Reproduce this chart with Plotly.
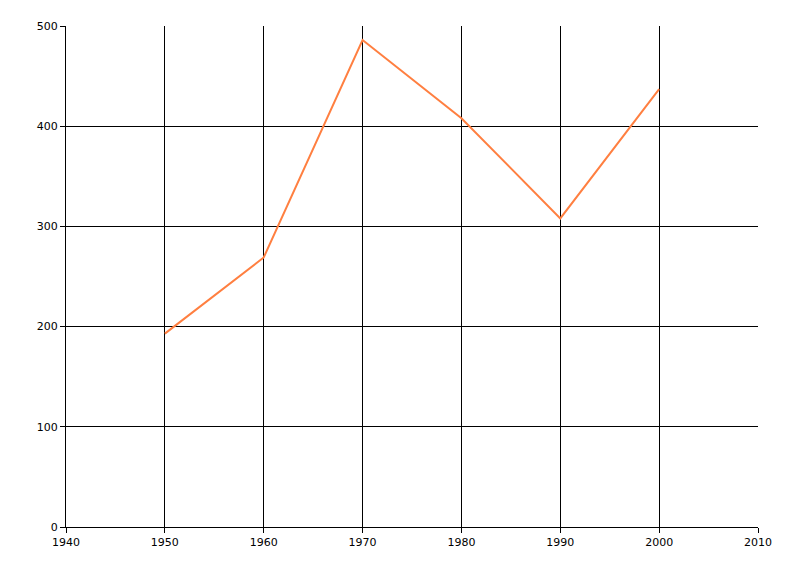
import plotly.graph_objects as go

years = [1950, 1960, 1970, 1980, 1990, 2000]
values = [193, 269, 486, 408, 308, 437]
x_ticks = [1940, 1950, 1960, 1970, 1980, 1990, 2000, 2010]
y_ticks = [0, 100, 200, 300, 400, 500]

fig = go.Figure()
fig.add_trace(go.Scatter(x=years, y=values, mode="lines",
                         line=dict(color="#FF7F40", width=2)))
fig.update_layout(
    width=800, height=576,
    margin=dict(l=58, r=50, t=18, b=57),
    paper_bgcolor="white", plot_bgcolor="white",
    showlegend=False,
    font=dict(family="DejaVu Sans, Liberation Sans, Arial, sans-serif", size=11, color="black"),
)
fig.update_xaxes(range=[1940, 2010], tickvals=x_ticks, ticktext=[str(t) for t in x_ticks],
                 showgrid=True, gridcolor="black", gridwidth=1,
                 showline=True, linecolor="black", linewidth=1,
                 ticks="outside", ticklen=5, tickcolor="black", zeroline=False)
fig.update_yaxes(range=[0, 500], tickvals=y_ticks,
                 showgrid=True, gridcolor="black", gridwidth=1,
                 showline=True, linecolor="black", linewidth=1,
                 ticks="outside", ticklen=5, tickcolor="black", zeroline=False)
fig.write_html("out.html")
